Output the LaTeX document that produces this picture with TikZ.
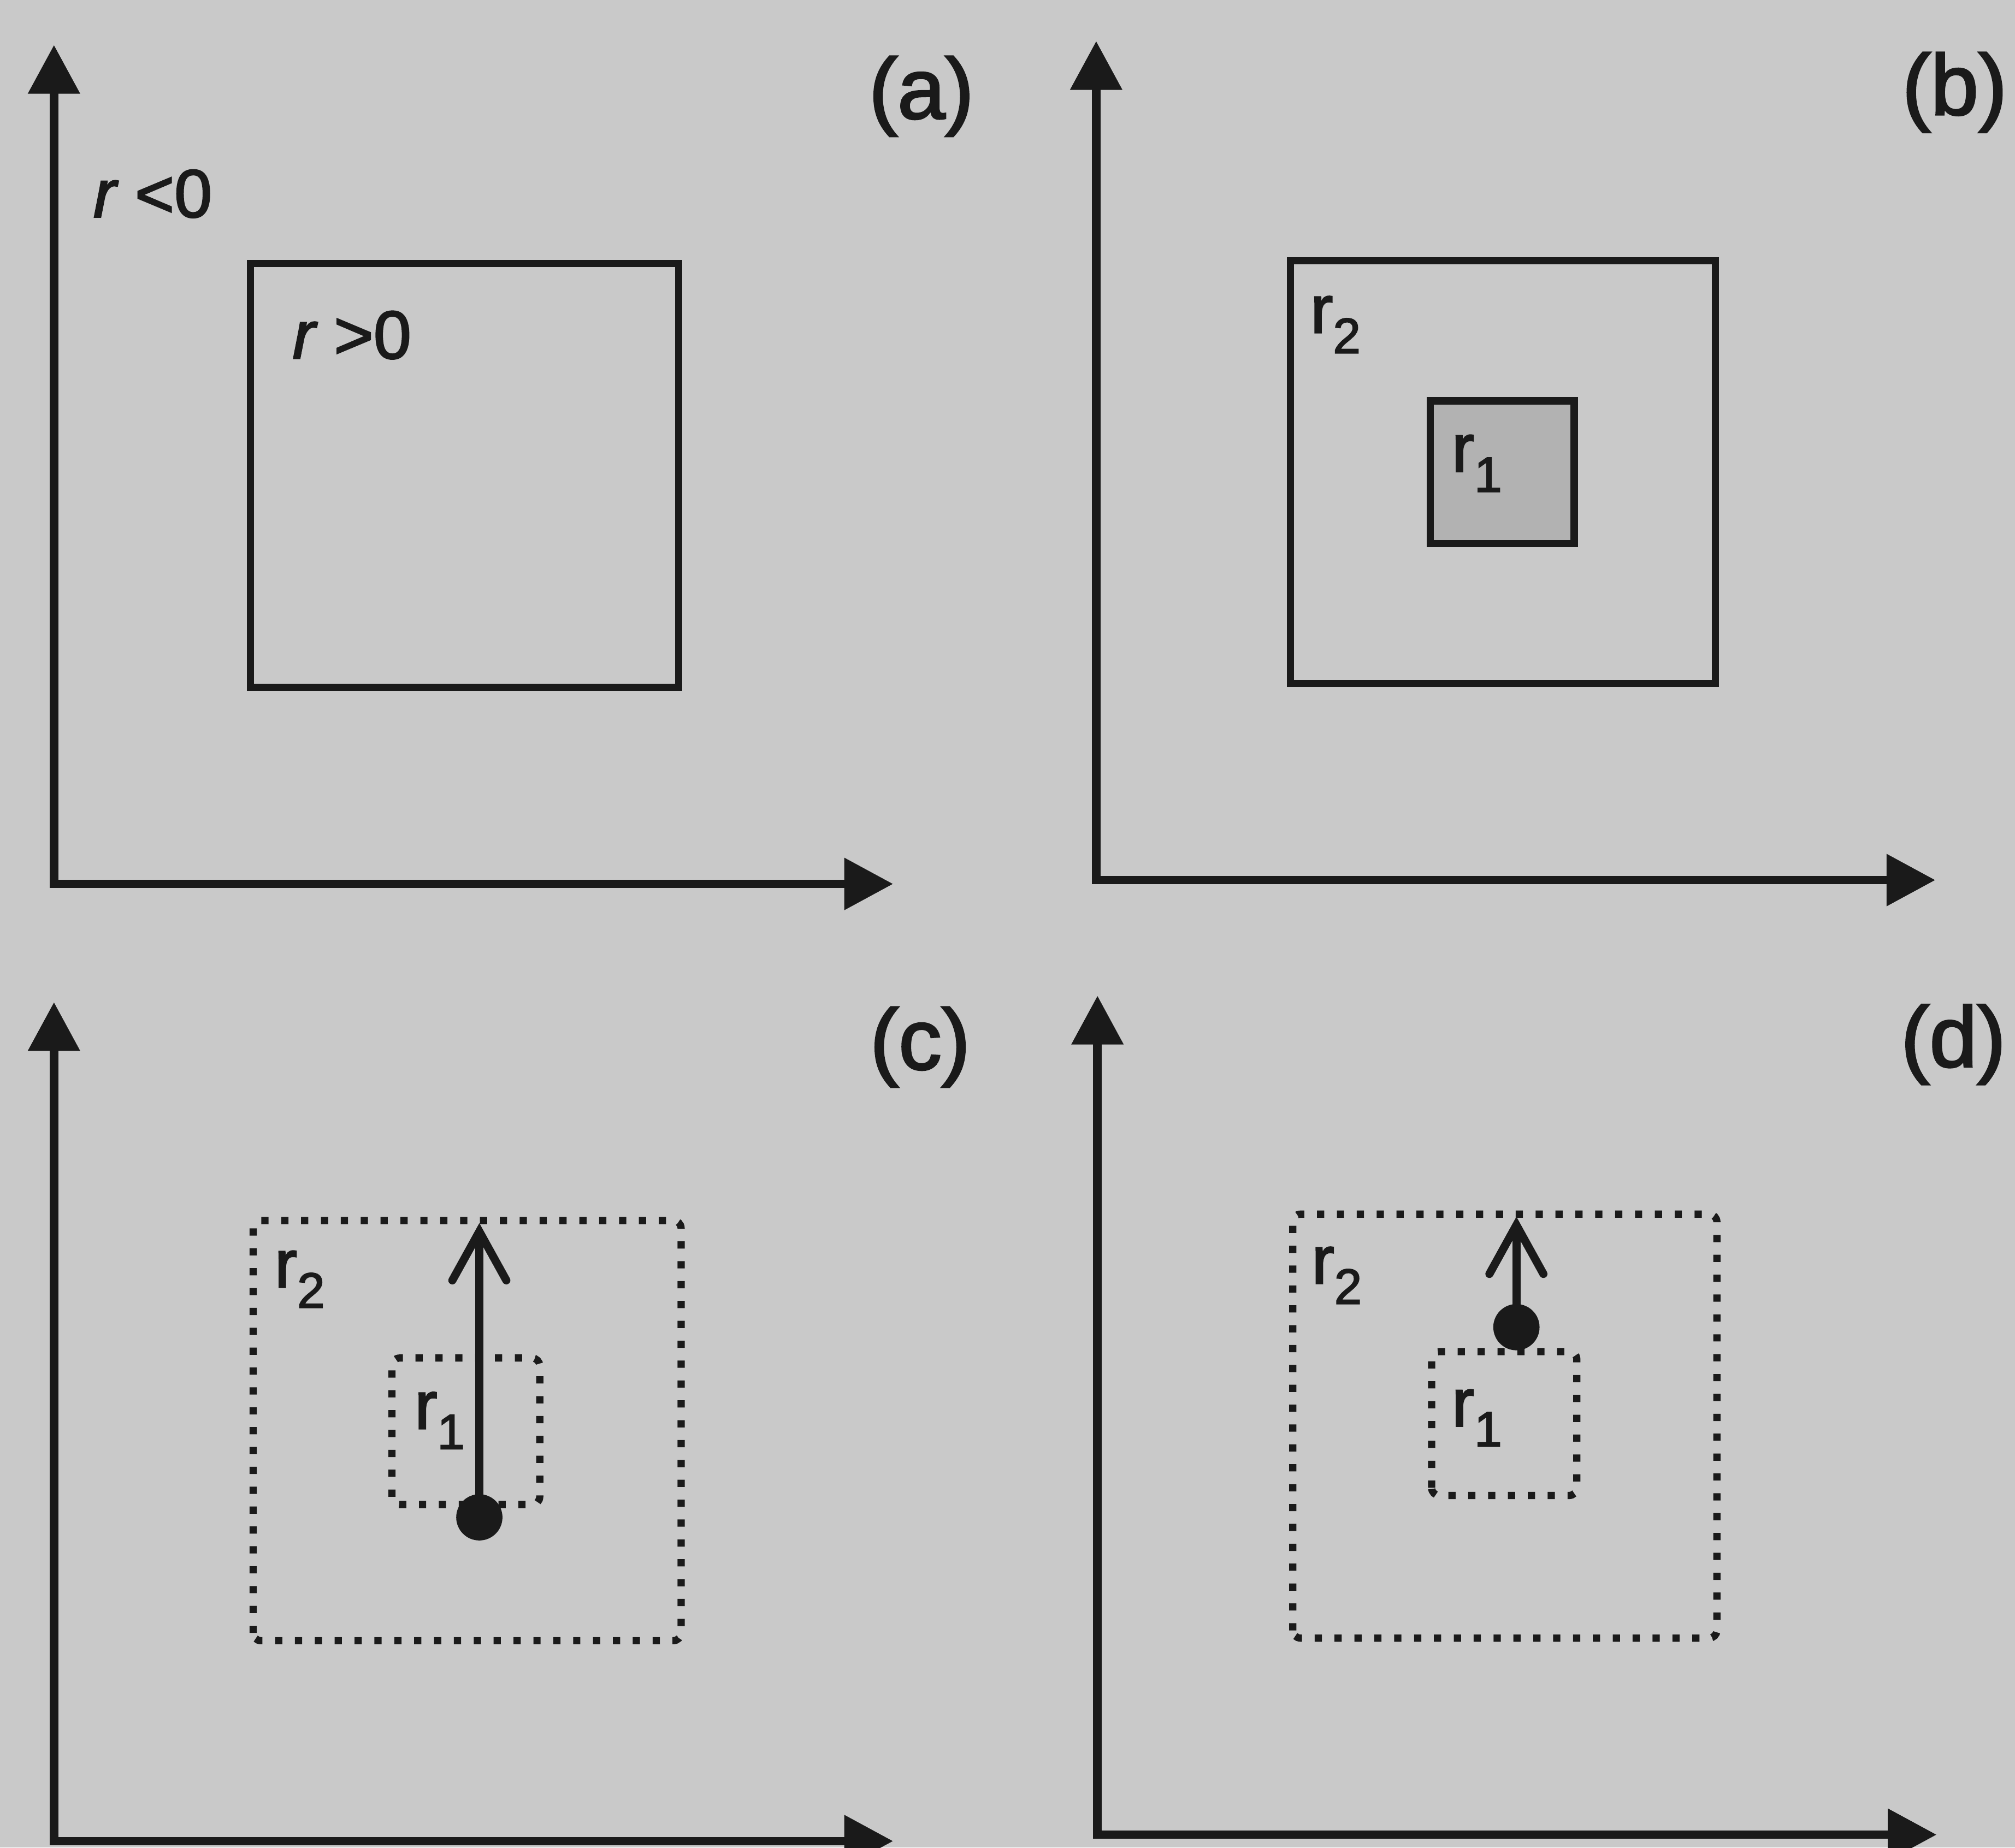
\documentclass[tikz,border=0pt]{standalone}
\usepackage{fontspec}
\setmainfont{Liberation Sans}
\usetikzlibrary{arrows.meta, positioning, calc}
\definecolor{panelGray}{RGB}{201,201,201}
\definecolor{coreGray}{RGB}{178,178,178}
\definecolor{inkBlack}{RGB}{26,26,26}
\newcommand{\heavy}{\addfontfeature{FakeBold=2.2}}
\newcommand{\rsub}[1]{r\raisebox{-4.5pt}{\fontsize{11}{11}\selectfont\heavy #1}}

\begin{document}
\begin{tikzpicture}[
    axis/.style={
        draw=inkBlack,
        line width=1.9pt,
        {Triangle[length=3.8mm, width=3.9mm]}-{Triangle[length=3.8mm, width=3.9mm]}
    },
    region/.style={draw=inkBlack, line width=1.6pt},
    core/.style={draw=inkBlack, line width=1.6pt, fill=coreGray},
    dotregion/.style={
        draw=inkBlack,
        line width=1.6pt,
        dash pattern=on 1.6pt off 2.8pt,
        rounded corners=0.6mm
    },
    move/.style={
        draw=inkBlack,
        line width=1.8pt,
        -{Straight Barb[length=3.8mm, width=4.2mm, line cap=round]}
    },
    dotmark/.style={circle, fill=inkBlack, minimum size=3.6mm, inner sep=0pt},
    tag/.style={font=\fontsize{19}{22}\selectfont\heavy, text=inkBlack, inner sep=0pt},
    label/.style={font=\fontsize{15}{18}\selectfont\heavy, text=inkBlack, inner sep=0pt, anchor=base west}
]

% Canvas
\useasboundingbox (0,0) rectangle (15.68,14.38);
\clip (0,0) rectangle (15.68,14.38);
\fill[panelGray] (0,0) rectangle (15.68,14.38);

% Axes of the four panels
\foreach \name/\ox/\oy in {a/0.42/7.50, b/8.53/7.53, c/0.42/0.05, d/8.54/0.10} {
    \coordinate (o\name) at (\ox,\oy);
    \draw[axis] ($(o\name)+(0,6.53)$) |- ($(o\name)+(6.53,0)$);
}

% Panel tags
\node[tag] (taga) at (7.17,13.63) {(a)};
\node[tag] (tagb) at (15.21,13.66) {(b)};
\node[tag] (tagc) at (7.16,6.23) {(c)};
\node[tag] (tagd) at (15.20,6.25) {(d)};

% (a) one region
\draw[region] (1.95,9.03) rectangle (5.28,12.33);
\node[label] (rneg) at (0.72,12.69) {{\itshape\heavy r} <0};
\node[label] (rpos) at (2.27,11.59) {{\itshape\heavy r} >0};

% (b) nested regions
\draw[region] (10.04,9.06) rectangle (13.35,12.35);
\draw[core] (11.13,10.15) rectangle (12.25,11.26);
\node[label] (btwo) at (10.19,11.79) {\rsub{2}};
\node[label] (bone) at (11.29,10.71) {\rsub{1}};

% (c) move from r1 to r2
\draw[dotregion] (1.97,1.61) rectangle (5.30,4.88);
\draw[dotregion] (3.05,2.67) rectangle (4.20,3.81);
\node[label] (ctwo) at (2.13,4.36) {\rsub{2}};
\node[label] (cone) at (3.22,3.26) {\rsub{1}};
\node[dotmark] (cstart) at (3.73,2.57) {};
\coordinate (cend) at (3.73,4.86);
\draw[move] (cstart.center) -- (cend);

% (d) move starting between r1 and r2
\draw[dotregion] (10.06,1.63) rectangle (13.36,4.93);
\draw[dotregion] (11.14,2.74) rectangle (12.27,3.86);
\node[label] (dtwo) at (10.20,4.39) {\rsub{2}};
\node[label] (done) at (11.29,3.28) {\rsub{1}};
\node[dotmark] (dstart) at (11.80,4.05) {};
\coordinate (dend) at (11.80,4.91);
\draw[move] (dstart.center) -- (dend);

\end{tikzpicture}
\end{document}
